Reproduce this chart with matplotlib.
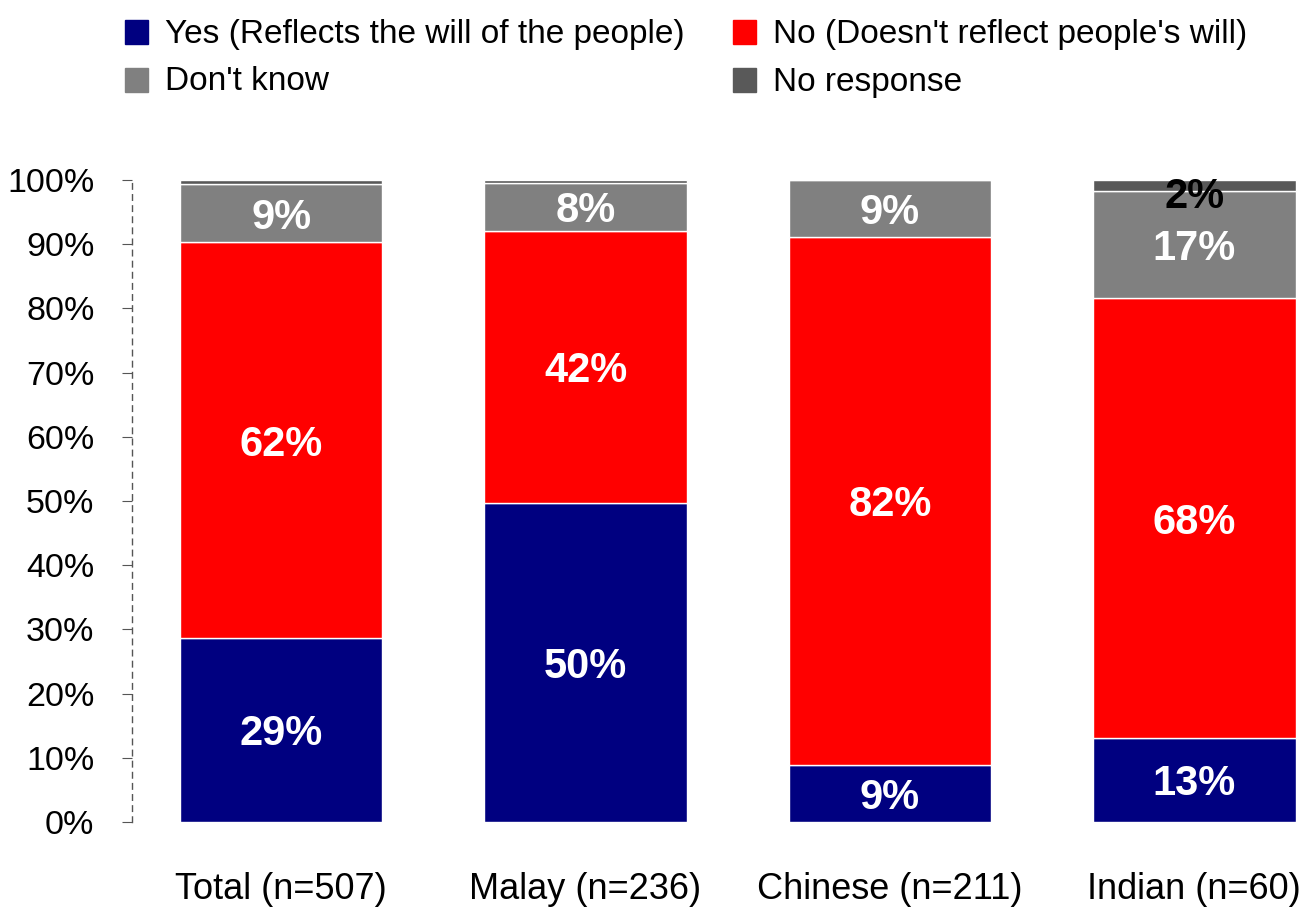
import matplotlib
matplotlib.use("Agg")
import matplotlib.pyplot as plt
import numpy as np
from matplotlib.patches import Rectangle

categories = ["Total (n=507)", "Malay (n=236)", "Chinese (n=211)", "Indian (n=60)"]
yes_vals = [28.7, 49.7, 8.9, 13.1]
no_vals = [61.6, 42.4, 82.2, 68.5]
dk_vals = [9.1, 7.4, 8.9, 16.7]
nr_vals = [0.6, 0.5, 0.0, 1.7]

yes_labels = ["29%", "50%", "9%", "13%"]
no_labels = ["62%", "42%", "82%", "68%"]
dk_labels = ["9%", "8%", "9%", "17%"]
nr_labels = ["", "", "", "2%"]

series_names = ["Yes (Reflects the will of the people)", "No (Doesn't reflect people's will)",
                "Don't know", "No response"]
colors = ["#000080", "#FF0000", "#808080", "#595959"]

font = ["Liberation Sans", "DejaVu Sans"]

fig = plt.figure(figsize=(13.02, 9.09), dpi=100)
ax = fig.add_axes([132 / 1302, 1 - 822 / 909, 1 - 132 / 1302, (822 - 180) / 909])

x = np.arange(len(categories))
w = 0.666
bottom = np.zeros(len(categories))
series = [yes_vals, no_vals, dk_vals, nr_vals]
labels = [yes_labels, no_labels, dk_labels, nr_labels]
for vals, labs, c in zip(series, labels, colors):
    vals = np.array(vals)
    ax.bar(x, vals, w, bottom=bottom, color=c, edgecolor="white", linewidth=1)
    for i in range(len(x)):
        if labs[i]:
            txtcol = "black" if c == "#595959" else "white"
            yc = bottom[i] + vals[i] / 2
            if c == "#595959":
                yc = bottom[i] - 0.2
            ax.text(x[i], yc, labs[i], ha="center", va="center_baseline", color=txtcol,
                    fontsize=30, fontweight="bold", family=font)
    bottom += vals

ax.set_xlim(-0.49, 3.354)
ax.set_ylim(0, 100)
ax.set_yticks(np.arange(0, 101, 10))
ax.set_yticklabels([f"{v}%" for v in range(0, 101, 10)], family=font, fontsize=24.5)
ax.tick_params(axis="y", direction="out", length=7, color="#555555", pad=20)
ax.set_xticks(x)
ax.set_xticklabels(categories, family=font, fontsize=26)
ax.tick_params(axis="x", length=0, pad=36)
for s in ["top", "right", "bottom"]:
    ax.spines[s].set_visible(False)
ax.spines["left"].set_linestyle((0, (4, 4)))
ax.spines["left"].set_color("#555555")
ax.spines["left"].set_linewidth(1)

# legend
pos = [(125, 32), (733, 32), (125, 80), (733, 80)]
for (px, py), name, c in zip(pos, series_names, colors):
    fig.patches.append(Rectangle((px / 1302, 1 - (py + 12) / 909), 23 / 1302, 24 / 909,
                                 transform=fig.transFigure, color=c))
    fig.text((px + 40) / 1302, 1 - (py + 2) / 909, name, ha="left", va="center",
             fontsize=24, family=font)

fig.savefig("out.png", dpi=100)
